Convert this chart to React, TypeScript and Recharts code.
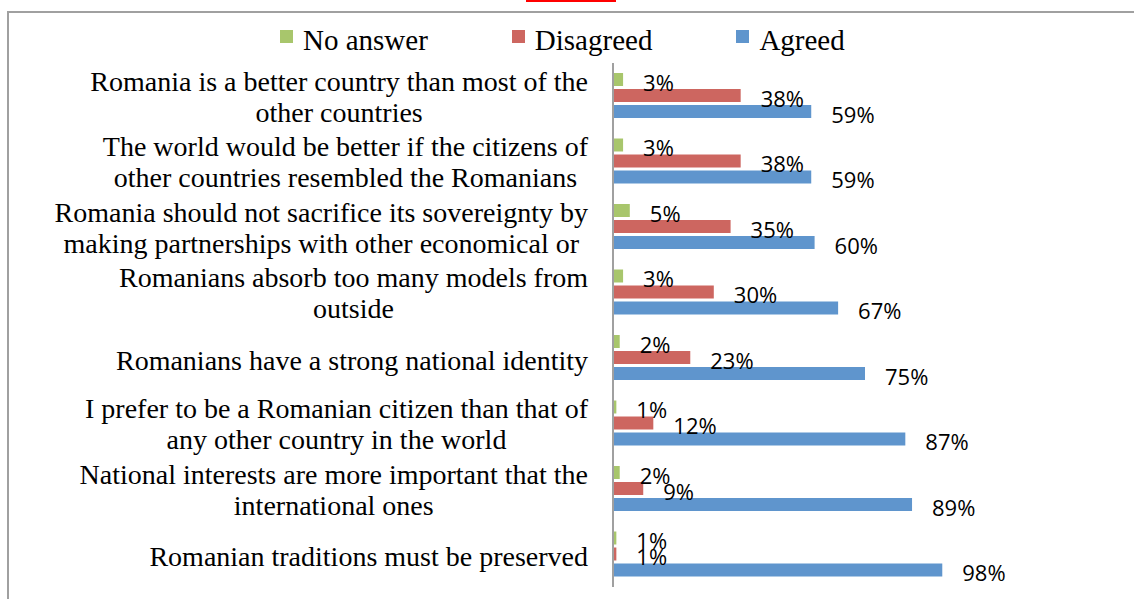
import React from 'react';
import { Bar, BarChart, LabelList, XAxis, YAxis } from 'recharts';

const categories: string[][] = [
  ['Romania is a better country than most of the', 'other countries'],
  ['The world would be better if the citizens of', 'other countries resembled the Romanians'],
  ['Romania should not sacrifice its sovereignty by', 'making partnerships with other economical or'],
  ['Romanians absorb too many models from', 'outside'],
  ['Romanians have a strong national identity'],
  ['I prefer to be a Romanian citizen than that of', 'any other country in the world'],
  ['National interests are more important that the', 'international ones'],
  ['Romanian traditions must be preserved'],
];
const noAnswer = [3, 3, 5, 3, 2, 1, 2, 1];
const disagreed = [38, 38, 35, 30, 23, 12, 9, 1];
const agreed = [59, 59, 60, 67, 75, 87, 89, 98];

const series = [
  { key: 'noAnswer', name: 'No answer', color: '#A8C66C' },
  { key: 'disagreed', name: 'Disagreed', color: '#CD6660' },
  { key: 'agreed', name: 'Agreed', color: '#5F95CD' },
];

const data = categories.map((lines, i) => ({
  name: lines.join(' '),
  noAnswer: noAnswer[i],
  disagreed: disagreed[i],
  agreed: agreed[i],
}));

const linesByName: Record<string, string[]> = {};
categories.forEach((l) => (linesByName[l.join(' ')] = l));

const SERIF = '"Liberation Serif", "Times New Roman", serif';
const LABEL_FONT = 28;
const LABEL_RIGHT = 588;

let ctx: CanvasRenderingContext2D | null = null;
function textWidth(s: string) {
  if (!ctx) ctx = document.createElement('canvas').getContext('2d');
  if (!ctx) return s.length * 12;
  ctx.font = `${LABEL_FONT}px ${SERIF}`;
  return ctx.measureText(s).width;
}

function CategoryTick(props: any) {
  const { y, payload } = props;
  const lines = linesByName[payload.value] || [payload.value];
  const block = Math.max(...lines.map(textWidth));
  const cx = LABEL_RIGHT - block / 2;
  const first = lines.length === 1 ? y + 12 : y - 5;
  return (
    <g>
      {lines.map((line, i) => (
        <text key={i} x={cx} y={first + i * 31} textAnchor="middle" fontFamily={SERIF} fontSize={LABEL_FONT} fill="#000">
          {line}
        </text>
      ))}
    </g>
  );
}

function ValueLabel(props: any) {
  const { x, y, width, height, value } = props;
  return (
    <text x={x + width + 20} y={y + height / 2 + 11} fontFamily='"Open Sans", sans-serif' fontSize={22} fill="#000">
      {value}%
    </text>
  );
}

export default function App() {
  return (
    <div style={{ position: 'absolute', left: 0, top: 0, width: 1134, height: 599, background: '#fff', overflow: 'hidden' }}>
      <div style={{ position: 'absolute', left: 526, top: 0, width: 90, height: 2, background: '#ff0000' }} />
      <div
        style={{
          position: 'absolute',
          left: 7,
          top: 11,
          width: 1140,
          height: 600,
          borderTop: '2px solid #a0a0a0',
          borderLeft: '2px solid #a0a0a0',
        }}
      />
      <div style={{ position: 'absolute', left: 280, top: 24, display: 'flex', fontFamily: SERIF, fontSize: 29, lineHeight: '32px' }}>
        {series.map((s) => (
          <div key={s.key} style={{ display: 'flex', alignItems: 'flex-start', marginRight: 84 }}>
            <span style={{ width: 13, height: 13, marginTop: 6, marginRight: 10, background: s.color }} />
            <span>{s.name}</span>
          </div>
        ))}
      </div>
      <div style={{ position: 'absolute', left: 0, top: 0 }}>
        <BarChart
          width={1134}
          height={599}
          data={data}
          layout="vertical"
          margin={{ top: 63, right: 185, bottom: 12, left: 0 }}
          barGap={3}
          barCategoryGap={10}
        >
          <XAxis type="number" domain={[0, 100]} hide />
          <YAxis
            type="category"
            dataKey="name"
            width={613}
            axisLine={{ stroke: '#a0a0a0', strokeWidth: 2 }}
            tickLine={false}
            tick={<CategoryTick />}
            interval={0}
          />
          {series.map((s) => (
            <Bar key={s.key} dataKey={s.key} name={s.name} fill={s.color} isAnimationActive={false}>
              <LabelList dataKey={s.key} content={<ValueLabel />} />
            </Bar>
          ))}
        </BarChart>
      </div>
    </div>
  );
}
